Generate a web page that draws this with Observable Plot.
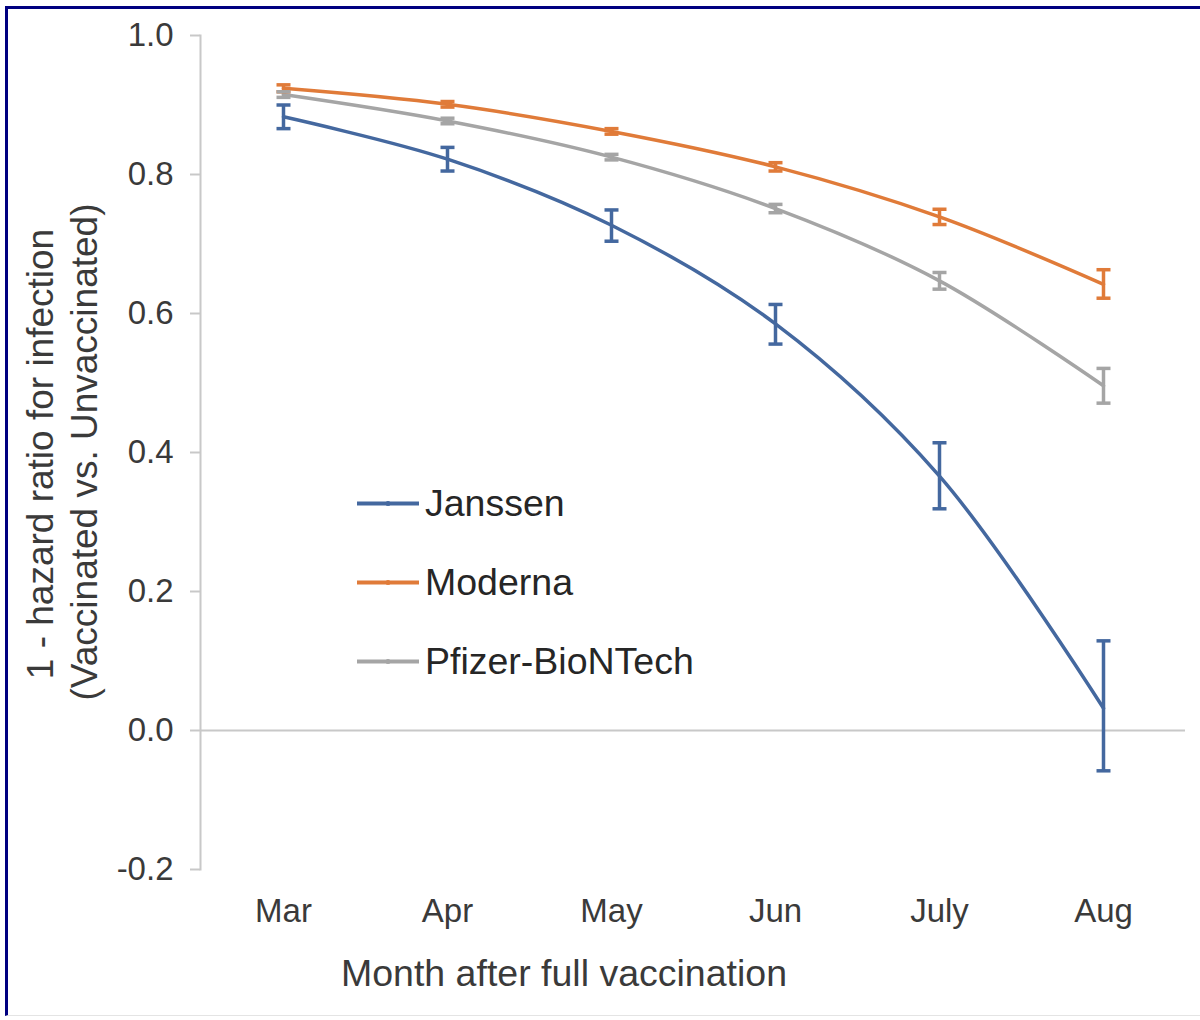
<!DOCTYPE html>
<html>
<head>
<meta charset="utf-8">
<script src="https://cdn.jsdelivr.net/npm/d3@7"></script>
<script src="https://cdn.jsdelivr.net/npm/@observablehq/plot@0.6"></script>
<style>
  html, body { margin: 0; padding: 0; background: #fff; }
  #wrap { position: relative; width: 1200px; height: 1020px; overflow: hidden; background: #fff;
          font-family: "Liberation Sans", Arial, sans-serif; }
  #frame { position: absolute; left: 5px; top: 6px; right: -2px; bottom: 4px;
           border-top: 3px solid #000080; border-left: 3px solid #000080; border-bottom: 1px solid #e4e4e4;
           pointer-events: none; }
  .ytitle { position: absolute; white-space: nowrap; font-size: 37px; color: #3a3a3a;
            transform: translate(-50%, -50%) rotate(-90deg); }
  #xtitle { position: absolute; left: 564px; top: 973px; transform: translate(-50%, -50%);
            white-space: nowrap; font-size: 37.5px; color: #3a3a3a; }
  #legend { position: absolute; left: 357px; top: 0; }
  .lg { position: absolute; left: 0; display: flex; align-items: center; white-space: nowrap;
        transform: translateY(-50%); font-size: 37.5px; color: #262626; }
  .lg svg { margin-right: 6px; }
</style>
</head>
<body>
<div id="wrap">
  <div id="chart"></div>
  <div id="frame"></div>
  <div class="ytitle" id="yt1" style="left:41px; top:454px;"></div>
  <div class="ytitle" id="yt2" style="left:85px; top:452px;"></div>
  <div id="xtitle"></div>
  <div id="legend"></div>
</div>
<script>
// ---- data ----
const months = ["Mar", "Apr", "May", "Jun", "July", "Aug"];
const seriesNames = ["Janssen", "Moderna", "Pfizer-BioNTech"];
const seriesColors = ["#44689f", "#e07b39", "#a5a5a5"];

const janssen   = [0.883, 0.822, 0.727, 0.585, 0.366, 0.032];
const janssenLo = [0.866, 0.805, 0.704, 0.556, 0.319, -0.058];
const janssenHi = [0.900, 0.839, 0.749, 0.613, 0.414, 0.129];

const moderna   = [0.924, 0.901, 0.862, 0.811, 0.739, 0.642];
const modernaLo = [0.919, 0.897, 0.858, 0.805, 0.728, 0.622];
const modernaHi = [0.929, 0.905, 0.866, 0.817, 0.750, 0.663];

const pfizer    = [0.915, 0.877, 0.825, 0.751, 0.647, 0.496];
const pfizerLo  = [0.911, 0.873, 0.821, 0.745, 0.635, 0.471];
const pfizerHi  = [0.919, 0.881, 0.829, 0.757, 0.659, 0.521];

const yTicks = [-0.2, 0, 0.2, 0.4, 0.6, 0.8, 1.0];
const yTitle1 = "1 - hazard ratio for infection";
const yTitle2 = "(Vaccinated vs. Unvaccinated)";
const xTitle = "Month after full vaccination";

// ---- table built from arrays ----
const table = [];
[[janssen, janssenLo, janssenHi], [moderna, modernaLo, modernaHi], [pfizer, pfizerLo, pfizerHi]]
  .forEach(([v, lo, hi], s) => months.forEach((m, i) =>
    table.push({series: seriesNames[s], month: m, value: v[i], lo: lo[i], hi: hi[i]})));

const cap = { draw(ctx, size) { const w = Math.sqrt(size / Math.PI); ctx.moveTo(-w, 0); ctx.lineTo(w, 0); } };

const chart = Plot.plot({
  width: 1200,
  height: 1020,
  marginLeft: 200,
  marginRight: 15,
  marginTop: 35,
  marginBottom: 151,
  style: { fontFamily: "'Liberation Sans', Arial, sans-serif", fontSize: "33px", color: "#3a3a3a", background: "transparent" },
  x: { type: "point", domain: months, padding: 0.5 },
  y: { domain: [-0.2, 1.0] },
  color: { domain: seriesNames, range: seriesColors },
  marks: [
    Plot.frame({ anchor: "left", stroke: "#c8c8c8", strokeWidth: 2 }),
    Plot.axisY({ ticks: yTicks, tickSize: 10, tickPadding: 17, tickFormat: d => d.toFixed(1),
                 stroke: "#c8c8c8", strokeWidth: 2, label: null }),
    Plot.axisX({ tickSize: 0, tickPadding: 29, label: null }),
    Plot.ruleY([0], { stroke: "#c8c8c8", strokeWidth: 2 }),
    Plot.line(table, { x: "month", y: "value", z: "series", stroke: "series", curve: "catmull-rom", strokeWidth: 3.5 }),
    Plot.ruleX(table, { x: "month", y1: "lo", y2: "hi", stroke: "series", strokeWidth: 3.5 }),
    Plot.dot(table, { x: "month", y: "lo", symbol: cap, r: 7, stroke: "series", strokeWidth: 3.5 }),
    Plot.dot(table, { x: "month", y: "hi", symbol: cap, r: 7, stroke: "series", strokeWidth: 3.5 })
  ]
});
document.getElementById("chart").appendChild(chart);

document.getElementById("yt1").textContent = yTitle1;
document.getElementById("yt2").textContent = yTitle2;
document.getElementById("xtitle").textContent = xTitle;

// legend
const legendY = [503, 582, 661];
const legend = document.getElementById("legend");
seriesNames.forEach((name, i) => {
  const row = document.createElement("div");
  row.className = "lg";
  row.style.top = legendY[i] + "px";
  row.innerHTML = `<svg width="62" height="10"><line x1="0" y1="5" x2="62" y2="5" stroke="${seriesColors[i]}" stroke-width="4"/><circle cx="31" cy="5" r="2.5" fill="${seriesColors[i]}"/></svg>`;
  const t = document.createElement("span");
  t.textContent = name;
  row.appendChild(t);
  legend.appendChild(row);
});
</script>
</body>
</html>
